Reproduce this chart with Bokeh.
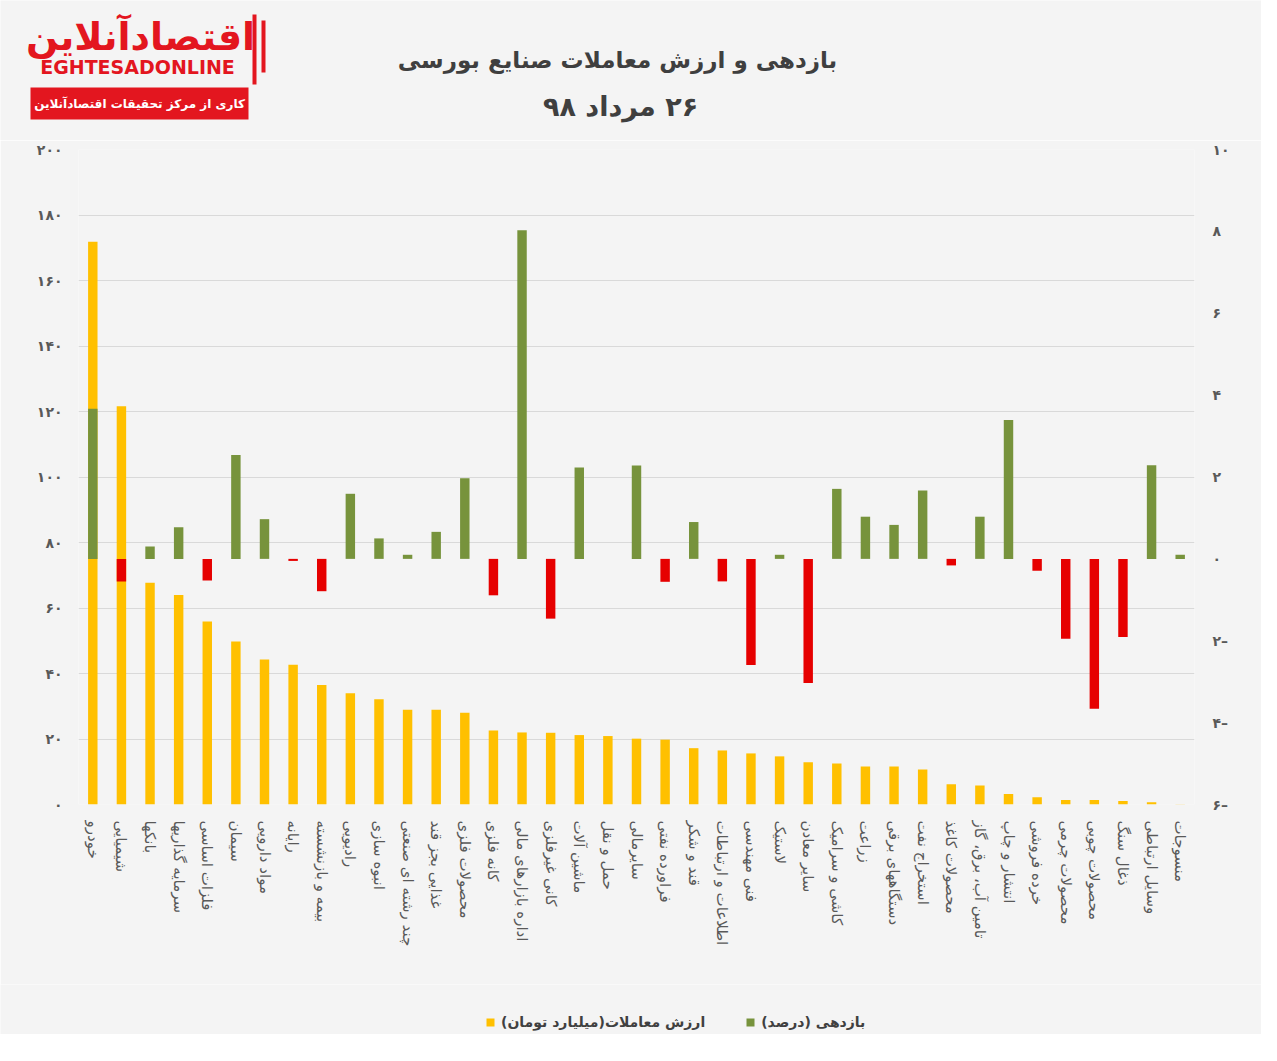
from bokeh.plotting import figure
from bokeh.layouts import column
from bokeh.models import (FactorRange, Range1d, LinearAxis, FixedTicker, Legend, LegendItem,
                          ColumnDataSource)
from bokeh.core.properties import value
from bokeh.embed import file_html
from bokeh.resources import INLINE

RLM = "\u200f"
FA = str.maketrans("0123456789-", "۰۱۲۳۴۵۶۷۸۹-")

categories = [
    "خودرو", "شیمیایی", "بانکها", "سرمایه گذاریها", "فلزات اساسی", "سیمان", "مواد دارویی",
    "رایانه", "بیمه و بازنشسته", "رادیویی", "انبوه سازی", "چند رشته ای صنعتی", "غذایی بجز قند",
    "محصولات فلزی", "کانه فلزی", "اداره بازارهای مالی", "کانی غیرفلزی", "ماشین آلات",
    "حمل و نقل", "سایرمالی", "فراورده نفتی", "قند و شکر", "اطلاعات و ارتباطات", "فنی مهندسی",
    "لاستیک", "سایر معادن", "کاشی و سرامیک", "زراعت", "دستگاههای برقی", "استخراج نفت",
    "محصولات کاغذ", "تامین آب، برق، گاز", "انتشار و چاپ", "خرده فروشی", "محصولات چرمی",
    "محصولات چوبی", "ذغال سنگ", "وسایل ارتباطی", "منسوجات",
]

trade_value = [
    171.8, 121.6, 67.7, 64.0, 55.9, 49.8, 44.3, 42.7, 36.5, 34.0, 32.1, 28.9, 28.9,
    28.0, 22.6, 22.0, 21.9, 21.2, 20.9, 20.1, 19.8, 17.2, 16.5, 15.6, 14.7, 12.9,
    12.5, 11.6, 11.6, 10.7, 6.2, 5.8, 3.2, 2.2, 1.4, 1.4, 1.1, 0.7, 0.1,
]

returns = [
    3.67, -0.55, 0.30, 0.77, -0.53, 2.54, 0.97, -0.05, -0.79, 1.59, 0.50, 0.10, 0.66,
    1.97, -0.89, 8.03, -1.46, 2.23, 0.0, 2.28, -0.56, 0.90, -0.55, -2.59, 0.10, -3.03,
    1.71, 1.03, 0.83, 1.67, -0.16, 1.03, 3.39, -0.29, -1.95, -3.66, -1.91, 2.29, 0.10,
]

left_ticks = [0, 20, 40, 60, 80, 100, 120, 140, 160, 180, 200]
right_ticks = [-6, -4, -2, 0, 2, 4, 6, 8, 10]

title_main = "بازدهی و ارزش معاملات صنایع بورسی"
title_date = RLM + "۲۶ مرداد ۹۸"
logo_fa = "اقتصادآنلاین"
logo_en = "EGHTESADONLINE"
logo_tag = "کاری از مرکز تحقیقات اقتصادآنلاین"
legend_value = "ارزش معاملات(میلیارد تومان)" + RLM
legend_return = "بازدهی (درصد)" + RLM

YELLOW = "#FFC000"
GREEN = "#77933C"
RED = "#E60000"
LOGO_RED = "#E3161F"
BG = "#F4F4F4"
FONT = "DejaVu Sans"

W = 1261
HEAD_H = 140
FL, FR = 78, 1194          # frame left / right inside the main figure
FRAME_TOP, FRAME_H = 9, 655
MAIN_H = FRAME_TOP + FRAME_H + 180
FOOT_H = 50
NAN = float("nan")


def blank(h, xr, yr):
    f = figure(width=W, height=h, x_range=xr, y_range=yr,
               x_axis_location=None, y_axis_location=None,
               output_backend="svg", toolbar_location=None, min_border=0,
               background_fill_color=BG, border_fill_color=BG, outline_line_color=None)
    f.frame_align = False
    f.grid.grid_line_color = None
    return f


# ---------------- header: logo and titles ----------------
head = blank(HEAD_H, Range1d(0, W), Range1d(HEAD_H, 0))
head.text(x=[617], y=[59], text=[title_main], text_font=value(FONT), text_font_size="23px",
          text_font_style="bold", text_color="#3F3F3F", text_align="center", text_baseline="middle")
head.text(x=[620], y=[106], text=[title_date], text_font=value(FONT), text_font_size="27px",
          text_font_style="bold", text_color="#3F3F3F", text_align="center", text_baseline="middle")
head.text(x=[140], y=[36], text=[logo_fa], text_font=value(FONT), text_font_size="38px",
          text_font_style="bold", text_color=LOGO_RED, text_align="center", text_baseline="middle")
head.text(x=[137], y=[66], text=[logo_en], text_font=value(FONT), text_font_size="19px",
          text_font_style="bold", text_color=LOGO_RED, text_align="center", text_baseline="middle")
head.quad(left=[252], right=[256], top=[14], bottom=[84], fill_color=LOGO_RED, line_color=None)
head.quad(left=[261], right=[265], top=[20], bottom=[72], fill_color=LOGO_RED, line_color=None)
head.quad(left=[30], right=[248], top=[87], bottom=[119], fill_color=LOGO_RED, line_color=None)
head.text(x=[139], y=[103], text=[logo_tag], text_font=value(FONT), text_font_size="12px",
          text_font_style="bold", text_color="white", text_align="center", text_baseline="middle")

# ---------------- main chart ----------------
p = figure(width=W, height=MAIN_H, x_range=FactorRange(*categories), y_range=Range1d(0, 200),
           output_backend="svg", toolbar_location=None,
           background_fill_color=BG, border_fill_color=BG, outline_line_color=None,
           min_border_left=FL, min_border_right=W - FR, min_border_top=FRAME_TOP,
           min_border_bottom=MAIN_H - FRAME_TOP - FRAME_H)
p.frame_align = False
p.extra_y_ranges = {"ret": Range1d(-6, 10)}

src = ColumnDataSource(dict(
    cat=categories, val=trade_value, ret=returns,
    color=[GREEN if r >= 0 else RED for r in returns],
))

r_val = p.vbar(x="cat", top="val", bottom=0, width=0.33, source=src,
               fill_color=YELLOW, line_color=None)
r_ret = p.vbar(x="cat", top="ret", bottom=0, width=0.33, source=src, y_range_name="ret",
               fill_color="color", line_color=None)

p.yaxis.ticker = FixedTicker(ticks=left_ticks)
p.yaxis.major_label_overrides = {t: str(t).translate(FA) for t in left_ticks}
raxis = LinearAxis(y_range_name="ret", ticker=FixedTicker(ticks=right_ticks))
raxis.major_label_overrides = {t: (str(abs(t)).translate(FA) + ("–" if t < 0 else ""))
                               for t in right_ticks}
p.add_layout(raxis, "right")

for ax in [p.yaxis[0], raxis]:
    ax.axis_line_color = None
    ax.major_tick_line_color = None
    ax.minor_tick_line_color = None
    ax.major_label_text_color = "#595959"
    ax.major_label_text_font = FONT
    ax.major_label_text_font_size = "14px"
    ax.major_label_text_font_style = "bold"
p.yaxis[0].major_label_standoff = 10
raxis.major_label_standoff = 12

xa = p.xaxis[0]
xa.axis_line_color = None
xa.major_tick_line_color = None
xa.major_label_orientation = "vertical"
xa.major_label_text_color = "#595959"
xa.major_label_text_font = FONT
xa.major_label_text_font_size = "15px"
xa.major_label_standoff = 10

p.xgrid.grid_line_color = None
p.ygrid.grid_line_color = "#D9D9D9"
p.ygrid.grid_line_width = 1

# ---------------- footer: legend ----------------
foot = blank(FOOT_H, Range1d(0, 1), Range1d(0, 1))
# key swatches for the legend (no visible bars of their own)
k_val = foot.vbar(x=[NAN], top=[NAN], width=0.1, fill_color=YELLOW, line_color=None)
k_ret = foot.vbar(x=[NAN], top=[NAN], width=0.1, fill_color=GREEN, line_color=None)
legend = Legend(items=[LegendItem(label=legend_value, renderers=[k_val]),
                       LegendItem(label=legend_return, renderers=[k_ret])],
                orientation="horizontal", location=(485, 4),
                background_fill_alpha=0, border_line_color=None,
                glyph_width=10, glyph_height=10, spacing=40, padding=0, margin=0,
                label_standoff=6,
                label_text_font=FONT, label_text_font_size="14px",
                label_text_font_style="bold", label_text_color="#404040")
foot.add_layout(legend, "center")

layout = column(head, p, foot, spacing=0)
open("out.html", "w").write(file_html(layout, INLINE))
